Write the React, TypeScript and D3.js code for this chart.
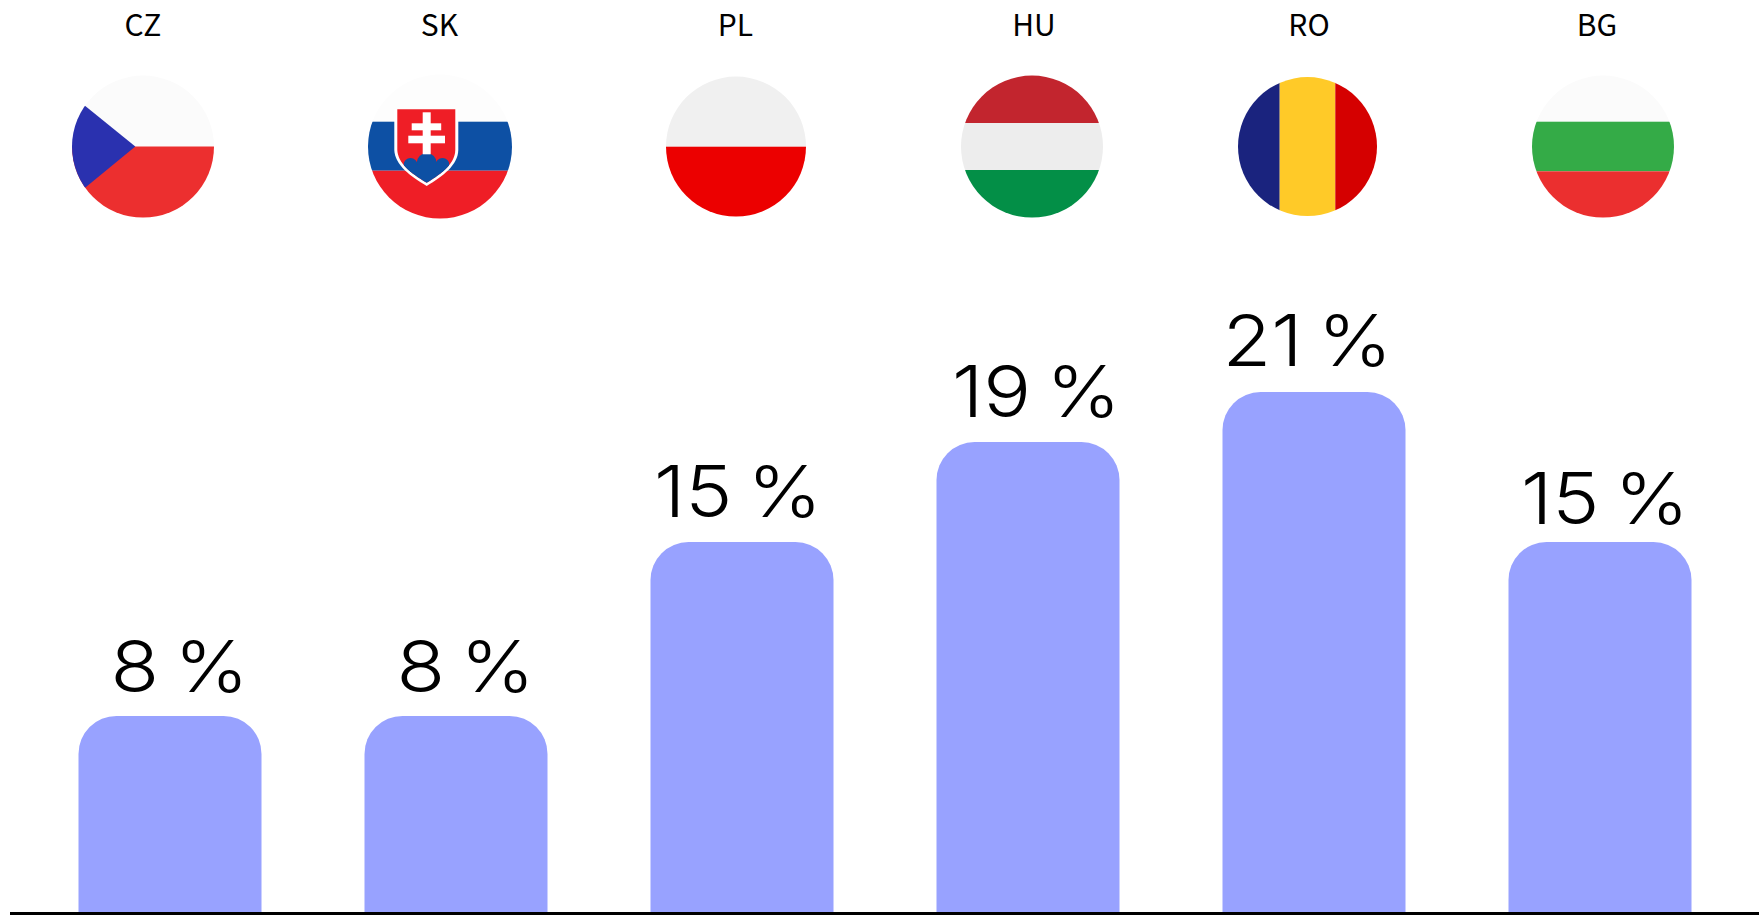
import React from "react";
import * as d3 from "d3";

const WIDTH = 1759;
const HEIGHT = 915;

// Data
const countries = ["CZ", "SK", "PL", "HU", "RO", "BG"];
const barValues = [7.92, 7.92, 14.94, 18.98, 21, 14.94];

// Layout
const flagCentreX = [143, 440, 736, 1032, 1307.5, 1603];
const flagRadius = [71, 72, 70, 71, 69.5, 71];
const codeCentreX = [143, 439.5, 735.5, 1034, 1309, 1597];
const labelLeftOffset = [32, 32, 3.5, 15.5, 0, 12.5];
const labelGap = [24, 24, 25, 25, 26, 18.5];

const x = d3
  .scaleBand<string>()
  .domain(countries)
  .range([78.5, 1691.5])
  .paddingInner(1 - 183 / 286)
  .paddingOuter(0);
const y = d3.scaleLinear().domain([0, 21]).range([912, 392]);

function barPath(x0: number, x1: number, top: number, bottom: number, r: number) {
  const p = d3.path();
  p.moveTo(x0, bottom);
  p.lineTo(x0, top + r);
  p.arcTo(x0, top, x0 + r, top, r);
  p.lineTo(x1 - r, top);
  p.arcTo(x1, top, x1, top + r, r);
  p.lineTo(x1, bottom);
  p.closePath();
  return p.toString();
}

function HBands({ cx, r, bands }: { cx: number; r: number; bands: [number, number, string][] }) {
  return (
    <>
      {bands.map(([a, b, c], i) => (
        <rect key={i} x={cx - r} y={a} width={2 * r} height={b - a} fill={c} />
      ))}
    </>
  );
}

function FlagArt({ code, cx, r }: { code: string; cx: number; r: number }) {
  const top = 70;
  const bot = 225;
  switch (code) {
    case "CZ":
      return (
        <>
          <HBands cx={cx} r={r} bands={[[top, 146.5, "#FBFBFB"], [146.5, bot, "#EC2F2F"]]} />
          <path d={`M${cx - 85},84 L${cx - 7.7},146.5 L${cx - 85},210 Z`} fill="#2A31AF" />
        </>
      );
    case "SK":
      return (
        <>
          <HBands
            cx={cx}
            r={r}
            bands={[[top, 121.7, "#FDFDFD"], [121.7, 170.7, "#0D50A4"], [170.7, bot, "#EF1E26"]]}
          />
          <path d="M394.3,109.3 L458.3,109.3 L458.3,150 C458,165 443,176 426.7,186 C410,176 395,165 394.3,150 Z" fill="#FFFFFF" />
          <clipPath id="sk-shield">
            <path d="M397.3,109.3 L455.3,109.3 L455.3,150 C455,163 443,173 426.7,182.7 C410,173 398,163 397.3,150 Z" />
          </clipPath>
          <g clipPath="url(#sk-shield)">
            <rect x={397} y={109} width={59} height={75} fill="#EF1E26" />
            <circle cx={410.5} cy={165} r={7} fill="#0D50A4" />
            <circle cx={442.5} cy={165} r={7} fill="#0D50A4" />
            <circle cx={426.7} cy={163} r={10} fill="#0D50A4" />
            <rect x={397} y={165} width={59} height={20} fill="#0D50A4" />
          </g>
          <rect x={422.7} y={112.3} width={8} height={42} fill="#FFFFFF" />
          <rect x={411.7} y={123.3} width={29.5} height={7} fill="#FFFFFF" />
          <rect x={408.3} y={135.7} width={36.7} height={7.6} fill="#FFFFFF" />
        </>
      );
    case "PL":
      return <HBands cx={cx} r={r} bands={[[top, 146.7, "#F0F0F0"], [146.7, bot, "#EC0000"]]} />;
    case "HU":
      return (
        <HBands
          cx={cx}
          r={r}
          bands={[[top, 123, "#C2252E"], [123, 170, "#EDEDED"], [170, bot, "#038F47"]]}
        />
      );
    case "RO":
      return (
        <>
          <rect x={cx - r} y={top} width={1279.7 - cx + r} height={bot - top} fill="#1A237E" />
          <rect x={1279.7} y={top} width={55.6} height={bot - top} fill="#FFCA28" />
          <rect x={1335.3} y={top} width={cx + r - 1335.3} height={bot - top} fill="#D50000" />
        </>
      );
    default:
      return (
        <HBands
          cx={cx}
          r={r}
          bands={[[top, 121.7, "#FBFBFB"], [121.7, 171.3, "#34AB47"], [171.3, bot, "#EB2F2F"]]}
        />
      );
  }
}

export default function App() {
  return (
    <svg
      width={WIDTH}
      height={HEIGHT}
      viewBox={`0 0 ${WIDTH} ${HEIGHT}`}
      style={{ position: "absolute", left: 0, top: 0, display: "block", background: "#fff" }}
    >
      {countries.map((c, i) => (
        <g key={c}>
          <text
            x={codeCentreX[i]}
            y={36}
            textAnchor="middle"
            fontFamily="'Noto Sans CJK JP', 'Noto Sans', sans-serif"
            fontSize={30}
            fontWeight={400}
            fill="#000"
          >
            {c}
          </text>
          <clipPath id={`flag-${c}`}>
            <circle cx={flagCentreX[i]} cy={146.6} r={flagRadius[i]} />
          </clipPath>
          <g clipPath={`url(#flag-${c})`}>
            <FlagArt code={c} cx={flagCentreX[i]} r={flagRadius[i]} />
          </g>
        </g>
      ))}
      {countries.map((c, i) => {
        const x0 = x(c)!;
        const top = y(barValues[i]);
        return (
          <g key={c}>
            <path d={barPath(x0, x0 + x.bandwidth(), top, y(0), 38)} fill="#98A2FF" />
            <text
              transform={`translate(${x0 + labelLeftOffset[i]},${top - labelGap[i]}) scale(1.12,1)`}
              fontFamily="Inter, sans-serif"
              fontSize={71}
              fontWeight={350}
              wordSpacing={-6.5}
              fill="#000"
            >
              {`${Math.round(barValues[i])} %`}
            </text>
          </g>
        );
      })}
      <rect x={10} y={y(0)} width={WIDTH - 10} height={3} fill="#000" />
    </svg>
  );
}
